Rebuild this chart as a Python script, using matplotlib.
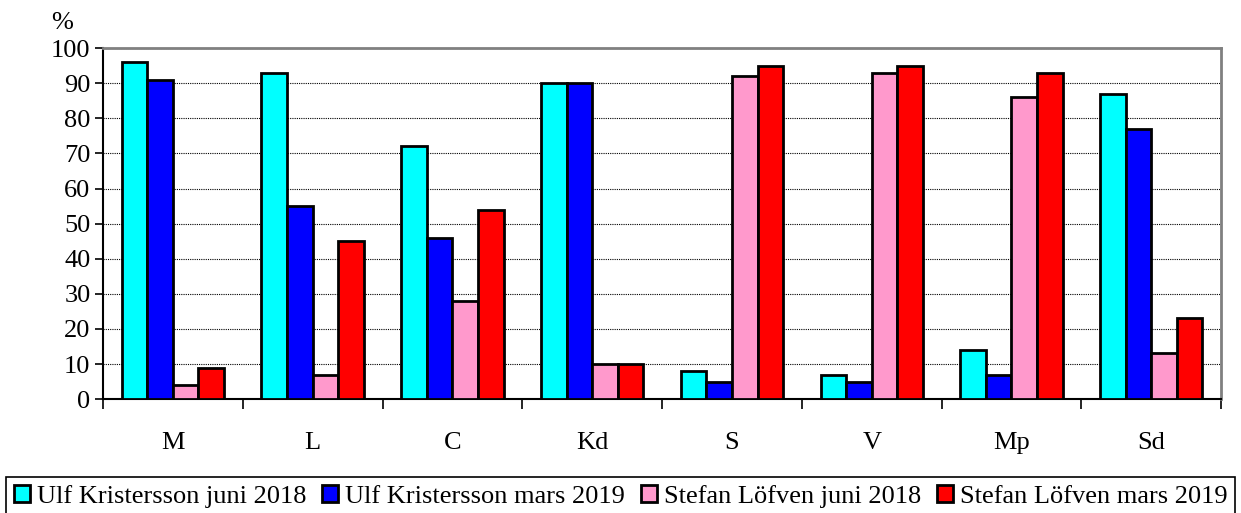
import matplotlib.pyplot as plt
import numpy as np

plt.rcParams['font.family'] = ['Liberation Serif', 'DejaVu Serif']

# parti-kategorier och andel (%) per serie
categories = ['M', 'L', 'C', 'Kd', 'S', 'V', 'Mp', 'Sd']
series = ['Ulf Kristersson juni 2018', 'Ulf Kristersson mars 2019',
          'Stefan Löfven juni 2018', 'Stefan Löfven mars 2019']
uk_2018 = [96, 93, 72, 90, 8, 7, 14, 87]
uk_2019 = [91, 55, 46, 90, 5, 5, 7, 77]
sl_2018 = [4, 7, 28, 10, 92, 93, 86, 13]
sl_2019 = [9, 45, 54, 10, 95, 95, 93, 23]
colors = ['#00FFFF', '#0000FF', '#FF99CC', '#FF0000']

fig = plt.figure(figsize=(12.41, 5.13), dpi=100)
ax = fig.add_axes([0.083, 0.222, 0.901, 0.684])

x = np.arange(len(categories))
w = 0.183
for i, (vals, lab, c) in enumerate(zip([uk_2018, uk_2019, sl_2018, sl_2019], series, colors)):
    ax.bar(x + (i - 1.5) * w, vals, w, color=c, edgecolor='black', linewidth=2,
           label=lab, zorder=3)

ax.set_xlim(-0.5, len(categories) - 0.5)
ax.set_ylim(0, 100)
ax.set_yticks(range(0, 101, 10))
ax.yaxis.grid(True, color='black', linestyle=(0, (1, 1)), linewidth=0.8, zorder=0)

ax.set_xticks(x)
ax.set_xticklabels(categories)
ax.set_xticks(np.arange(-0.5, len(categories)), minor=True)
ax.tick_params(axis='x', which='major', length=0, pad=24, labelsize=19)
ax.tick_params(axis='x', which='minor', length=7, width=1.2, direction='out')
ax.tick_params(axis='y', length=6, width=1.2, labelsize=19, pad=3)

for s in ['top', 'right']:
    ax.spines[s].set_color('#808080')
    ax.spines[s].set_linewidth(2)
for s in ['left', 'bottom']:
    ax.spines[s].set_color('black')
    ax.spines[s].set_linewidth(1.5)

fig.text(0.05, 0.955, '%', fontsize=19, ha='center', va='center')

leg = fig.legend(loc='lower center', bbox_to_anchor=(0.5, -0.005), ncol=4,
                 fontsize=19, frameon=True, fancybox=False, edgecolor='black',
                 framealpha=1, handlelength=0.62, handleheight=0.62,
                 handletextpad=0.25, columnspacing=0.6, borderpad=0.3,
                 borderaxespad=0)
leg.get_frame().set_linewidth(1.2)

fig.savefig('out.png', dpi=100)
